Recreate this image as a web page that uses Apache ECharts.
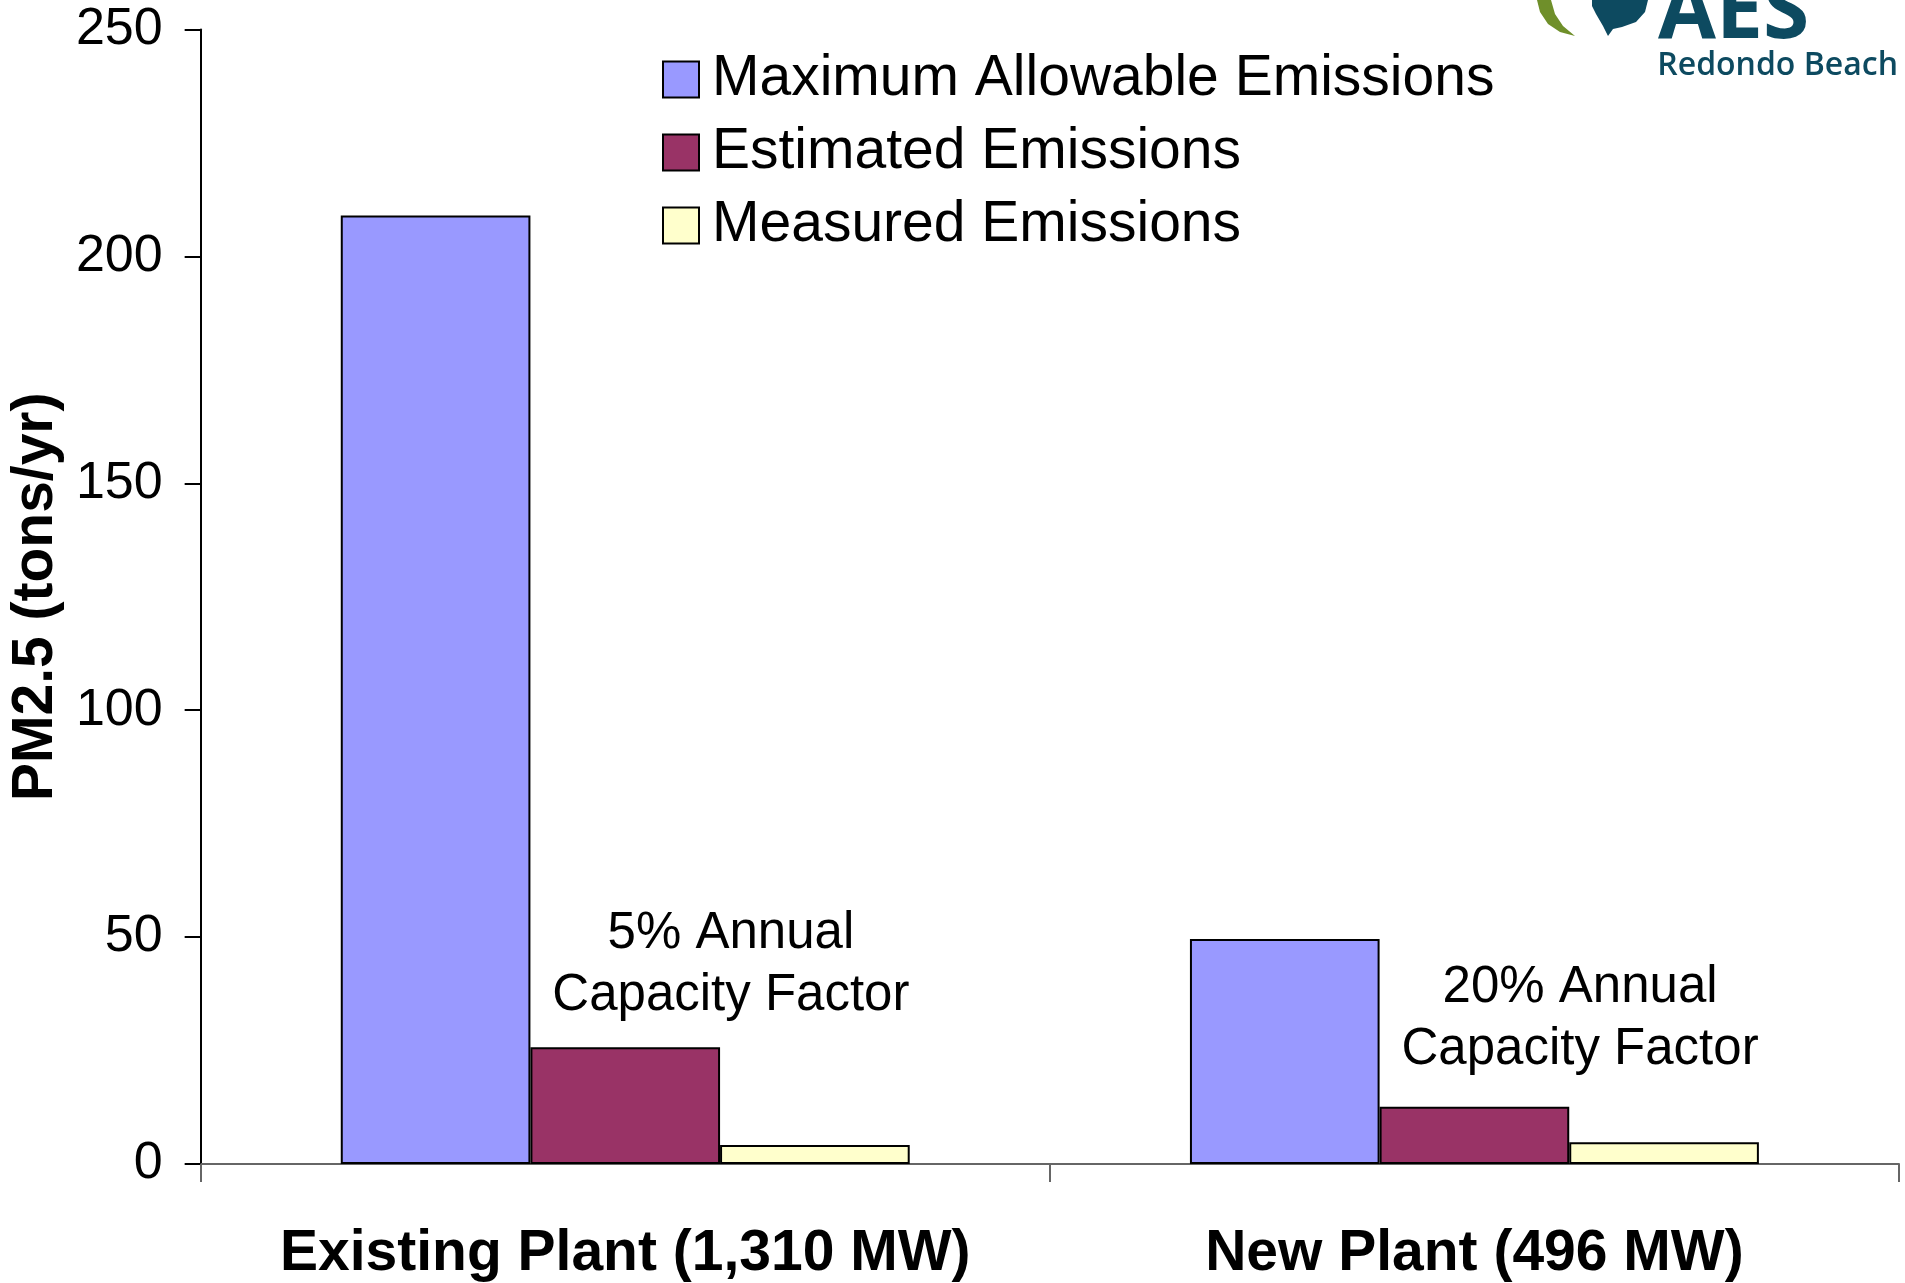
<!DOCTYPE html>
<html><head><meta charset="utf-8">
<script src="https://cdn.jsdelivr.net/npm/echarts@6/dist/echarts.min.js"></script>
<style>html,body{margin:0;padding:0;background:#fff}#c{width:1905px;height:1283px}</style>
</head><body><div id="c"></div>
<script>
const categories = ['Existing Plant (1,310 MW)', 'New Plant (496 MW)'];
const seriesNames = ['Maximum Allowable Emissions', 'Estimated Emissions', 'Measured Emissions'];
const maxAllowable = [209, 49.6];
const estimated = [25.7, 12.6];
const measured = [4.2, 4.8];
const yMin = 0, yMax = 250, yInterval = 50;
const annotationCats = [0, 1];
const annotationValues = [43.9, 32.0];
const annotationTexts = ['5% Annual\nCapacity Factor', '20% Annual\nCapacity Factor'];

const FONT = '"Liberation Sans", Arial, sans-serif';
const colors = ['#9999FF', '#993366', '#FFFFCC'];
const values = [maxAllowable, estimated, measured];

const chart = echarts.init(document.getElementById('c'), null, {renderer: 'canvas'});

const series = values.map((v, i) => {
  const s = {
    name: seriesNames[i],
    type: 'bar',
    data: v,
    barGap: '0%',
    barCategoryGap: '33%',
    itemStyle: {color: colors[i], borderColor: '#000', borderWidth: 2},
    emphasis: {disabled: true}
  };
  if (i === 2) {
    s.markPoint = {
      symbol: 'rect',
      symbolSize: 1,
      itemStyle: {color: 'rgba(0,0,0,0)'},
      animation: false,
      data: annotationCats.map((c, k) => ({
        coord: [c, annotationValues[k]],
        label: {
          show: true,
          position: 'inside',
          offset: [-84, 0],
          formatter: annotationTexts[k],
          fontFamily: FONT,
          fontSize: 51,
          lineHeight: 62,
          color: '#000',
          align: 'center'
        }
      }))
    };
  }
  return s;
});

chart.setOption({
  animation: false,
  backgroundColor: '#fff',
  grid: {left: 200, right: 6, top: 29.5, bottom: 116, containLabel: false},
  legend: {
    orient: 'vertical',
    left: 657,
    top: 46,
    itemWidth: 36,
    itemHeight: 36,
    itemGap: 16,
    icon: 'rect',
    itemStyle: {borderColor: '#000', borderWidth: 2},
    textStyle: {fontFamily: FONT, fontSize: 57, color: '#000', padding: [0, 0, 0, 8]},
    data: seriesNames
  },
  xAxis: {
    type: 'category',
    data: categories,
    axisLine: {show: true, lineStyle: {color: '#666', width: 2}},
    axisTick: {show: true, length: 18, lineStyle: {color: '#666', width: 2}},
    axisLabel: {fontFamily: FONT, fontSize: 57, fontWeight: 'bold', color: '#000', margin: 62, interval: 0, hideOverlap: false}
  },
  yAxis: {
    type: 'value',
    min: yMin, max: yMax, interval: yInterval,
    name: 'PM2.5 (tons/yr)',
    nameLocation: 'middle',
    nameRotate: 90,
    nameGap: 119,
    nameTextStyle: {fontFamily: FONT, fontSize: 57, fontWeight: 'bold', color: '#000'},
    axisLine: {show: true, lineStyle: {color: '#000', width: 2}},
    axisTick: {show: true, length: 16, lineStyle: {color: '#000', width: 2}},
    axisLabel: {fontFamily: FONT, fontSize: 52, color: '#000', margin: 38},
    splitLine: {show: false}
  },
  graphic: [
    {type: 'polygon', shape: {points: [[1537,0],[1540,12],[1548,24],[1560,32],[1575,36],[1563,26],[1555,14],[1551,0]]}, style: {fill: '#6f8f2a'}},
    {type: 'polygon', shape: {points: [[1592,0],[1648,0],[1645,12],[1636,22],[1622,27],[1613,29],[1608,36],[1603,26],[1596,14],[1592,6]]}, style: {fill: '#0d4a60'}},
    {type: 'text', left: 1658, top: -28, style: {text: 'AES', font: 'bold 84px "Open Sans", sans-serif', fill: '#0d4a60'}},
    {type: 'text', right: 7, top: 50, style: {text: 'Redondo Beach', font: '600 32px "Open Sans", sans-serif', fill: '#0d4a60'}}
  ],
  series: series
});
</script></body></html>
